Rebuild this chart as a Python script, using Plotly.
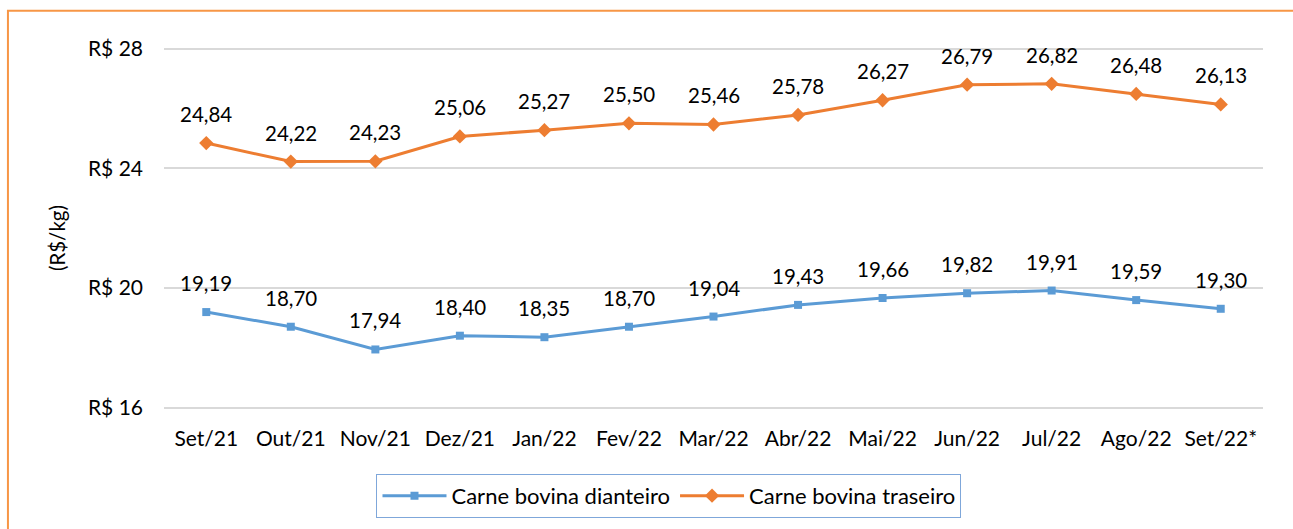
import plotly.graph_objects as go

categories = ["Set/21", "Out/21", "Nov/21", "Dez/21", "Jan/22", "Fev/22", "Mar/22",
              "Abr/22", "Mai/22", "Jun/22", "Jul/22", "Ago/22", "Set/22*"]
dianteiro = [19.19, 18.70, 17.94, 18.40, 18.35, 18.70, 19.04, 19.43, 19.66, 19.82, 19.91, 19.59, 19.30]
traseiro = [24.84, 24.22, 24.23, 25.06, 25.27, 25.50, 25.46, 25.78, 26.27, 26.79, 26.82, 26.48, 26.13]
y_ticks = [16, 20, 24, 28]
y_tick_labels = ["R$ 16", "R$ 20", "R$ 24", "R$ 28"]

FONT = "Lato"
BLUE = "#5B9BD5"
ORANGE = "#ED7D31"

def fmt(v):
    return f"{v:.2f}".replace(".", ",")

fig = go.Figure()
fig.add_trace(go.Scatter(
    x=categories, y=dianteiro, mode="lines+markers", name="Carne bovina dianteiro",
    line=dict(color=BLUE, width=3), marker=dict(symbol="square", size=8, color=BLUE)))
fig.add_trace(go.Scatter(
    x=categories, y=traseiro, mode="lines+markers", name="Carne bovina traseiro",
    line=dict(color=ORANGE, width=3), marker=dict(symbol="diamond", size=11, color=ORANGE)))

annotations = []
for series in (dianteiro, traseiro):
    for c, v in zip(categories, series):
        annotations.append(dict(x=c, y=v, text=fmt(v), showarrow=False, yshift=29,
                                font=dict(family=FONT, size=20.5, color="#000000")))
annotations.append(dict(xref="paper", yref="paper", x=-0.0974, y=0.472, text="(R$/kg)",
                        textangle=-90, showarrow=False, xanchor="center", yanchor="middle",
                        font=dict(family=FONT, size=20.5, color="#000000")))

fig.update_layout(
    width=1293, height=529,
    margin=dict(l=164, r=30, t=47, b=120, autoexpand=False),
    paper_bgcolor="white", plot_bgcolor="white",
    font=dict(family=FONT, size=21, color="#000000"),
    showlegend=True,
    legend=dict(orientation="h", x=0.4595, y=-0.24, xanchor="center", yanchor="middle",
                bordercolor="#7FA7DA", borderwidth=1, font=dict(family=FONT, size=22),
                itemwidth=64, tracegroupgap=0),
    annotations=annotations,
    shapes=[dict(type="rect", xref="paper", yref="paper", x0=-0.142, y0=-2, x1=1.2, y1=1.1,
                 line=dict(color="#F79646", width=2), fillcolor="rgba(0,0,0,0)", layer="above")],
)
fig.update_xaxes(type="category", range=[-0.5, 12.5], showgrid=False, showline=False,
                 zeroline=False, ticks="", ticklabelstandoff=15, automargin=False,
                 tickfont=dict(family=FONT, size=21))
fig.update_yaxes(range=[15.95, 28.05], tickvals=y_ticks, ticktext=y_tick_labels,
                 showgrid=True, gridcolor="#D9D9D9", gridwidth=2, zeroline=False,
                 showline=False, ticks="", ticklabelstandoff=20, automargin=False,
                 tickfont=dict(family=FONT, size=21))

fig.write_html("out.html", config={"displayModeBar": False},
               post_script="document.body.style.margin='0';")
